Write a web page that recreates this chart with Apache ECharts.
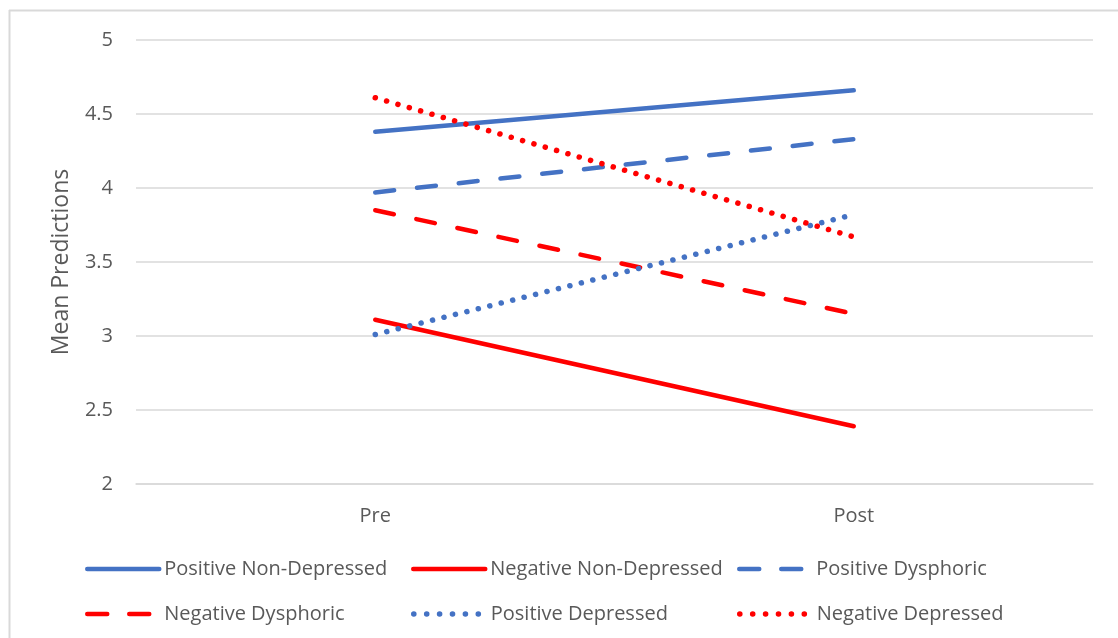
<!DOCTYPE html>
<html>
<head>
<meta charset="utf-8">
<script src="https://cdn.jsdelivr.net/npm/echarts@6/dist/echarts.min.js"></script>
<style>
html,body{margin:0;padding:0;background:#fff;}
#chart{width:1118px;height:638px;}
</style>
</head>
<body>
<div id="chart"></div>
<script>
const categories = ['Pre', 'Post'];
const yTicks = [2, 5, 0.5]; // min, max, interval
const seriesNames = ['Positive Non-Depressed', 'Negative Non-Depressed', 'Positive Dysphoric', 'Negative Dysphoric', 'Positive Depressed', 'Negative Depressed'];
const positiveNonDepressed = [4.38, 4.66];
const negativeNonDepressed = [3.11, 2.39];
const positiveDysphoric = [3.97, 4.33];
const negativeDysphoric = [3.85, 3.15];
const positiveDepressed = [3.01, 3.82];
const negativeDepressed = [4.61, 3.67];

const seriesValues = [positiveNonDepressed, negativeNonDepressed, positiveDysphoric, negativeDysphoric, positiveDepressed, negativeDepressed];
const BLUE = '#4472C4', RED = '#FF0000';
const colors = [BLUE, RED, BLUE, RED, BLUE, RED];
const dashes = ['solid', 'solid', [19, 23], [19, 23], [0.1, 11.7], [0.1, 11.7]];
const legendDashes = ['solid', 'solid', [20, 22], [20, 22], [0.1, 12.8], [0.1, 12.8]];
const widths = [4.5, 4.5, 4.5, 4.5, 5.5, 5.5];
const FONT = 'Open Sans';
const TXT = '#595959';

const legendPos = [[85, 559], [411, 559], [737, 559], [85, 604], [411, 604], [737, 604]];

const chart = echarts.init(document.getElementById('chart'), null, {renderer: 'canvas'});
chart.setOption({
  animation: false,
  backgroundColor: '#fff',
  textStyle: {fontFamily: FONT, color: TXT},
  grid: {left: 136, right: 25, top: 40, bottom: 154, containLabel: false},
  xAxis: {
    type: 'category',
    data: categories,
    boundaryGap: true,
    axisLine: {show: true, lineStyle: {color: '#d9d9d9', width: 1.5}},
    axisTick: {show: false},
    axisLabel: {fontFamily: FONT, fontSize: 20, color: TXT, margin: 22},
    splitLine: {show: false}
  },
  yAxis: {
    type: 'value',
    min: yTicks[0], max: yTicks[1], interval: yTicks[2],
    name: 'Mean Predictions',
    nameLocation: 'middle',
    nameGap: 63,
    nameRotate: 90,
    nameTextStyle: {fontFamily: FONT, fontSize: 23, color: TXT},
    axisLine: {show: false},
    axisTick: {show: false},
    axisLabel: {fontFamily: FONT, fontSize: 20, color: TXT, margin: 23},
    splitLine: {show: true, lineStyle: {color: '#d9d9d9', width: 1.5}}
  },
  legend: seriesNames.map((n, i) => ({
    data: [n],
    left: legendPos[i][0],
    top: legendPos[i][1],
    orient: 'horizontal',
    itemWidth: 72,
    itemHeight: 20,
    itemGap: 0,
    padding: 0,
    itemStyle: {opacity: 0, color: 'rgba(0,0,0,0)', borderWidth: 0},
    lineStyle: {width: widths[i], type: legendDashes[i], cap: 'round', color: colors[i]},
    textStyle: {fontFamily: FONT, fontSize: 20, color: TXT, lineHeight: 20}
  })),
  graphic: [
    {type: 'line', shape: {x1: 9, y1: 10.5, x2: 1118, y2: 10.5}, style: {stroke: '#d9d9d9', lineWidth: 2}},
    {type: 'line', shape: {x1: 9.5, y1: 10, x2: 9.5, y2: 638}, style: {stroke: '#d9d9d9', lineWidth: 2}}
  ],
  series: seriesNames.map((n, i) => ({
    name: n,
    type: 'line',
    data: seriesValues[i],
    symbol: 'none',
    showSymbol: false,
    color: colors[i],
    lineStyle: {color: colors[i], width: widths[i], type: dashes[i], cap: 'round'},
    emphasis: {disabled: true}
  }))
});
</script>
</body>
</html>
